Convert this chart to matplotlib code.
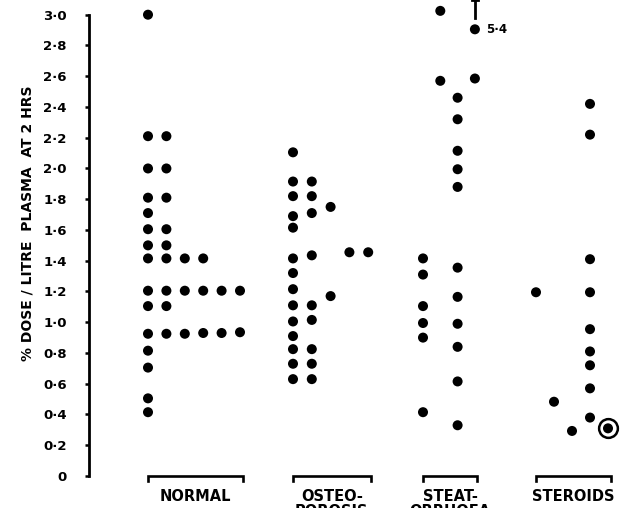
import matplotlib
matplotlib.use('Agg')
import matplotlib.pyplot as plt

# values, one list per dot column
groups = ['NORMAL', 'OSTEO-\nPOROSIS', 'STEAT-\nORRHOEA', 'STEROIDS']

normal = [
    [3.0, 2.21, 2.0, 1.81, 1.71, 1.605, 1.5, 1.415, 1.205, 1.105, 0.925, 0.815, 0.705, 0.505, 0.415],
    [2.21, 2.0, 1.81, 1.605, 1.5, 1.415, 1.205, 1.105, 0.925],
    [1.415, 1.205, 0.925],
    [1.415, 1.205, 0.93],
    [1.205, 0.93],
    [1.205, 0.935],
]
osteoporosis = [
    [2.105, 1.915, 1.82, 1.69, 1.615, 1.415, 1.32, 1.215, 1.11, 1.005, 0.91, 0.825, 0.73, 0.63],
    [1.915, 1.82, 1.71, 1.435, 1.11, 1.015, 0.825, 0.73, 0.63],
    [1.75, 1.17],
    [1.455],
    [1.455],
]
steatorrhoea = [
    [1.415, 1.31, 1.105, 0.995, 0.9, 0.415],
    [3.025, 2.57],
    [2.46, 2.32, 2.115, 1.995, 1.88, 1.355, 1.165, 0.99, 0.84, 0.615, 0.33],
    [2.905, 2.585],
]
steroids = [
    [1.195],
    [0.483],
    [0.293],
    [2.42, 2.22, 1.41, 1.195, 0.955, 0.81, 0.72, 0.57, 0.38],
    [0.31],
]
# one steatorrhoea value is off scale and plotted at the top with an arrow
offscale_value = 5.4
offscale_plotted = 2.905
circled_value = 0.31  # the ringed steroid point

yticks = [i / 5 for i in range(16)]
ylabel = '% DOSE / LITRE  PLASMA  AT 2 HRS'

# layout (pixel-like x units)
col_start = [148, 293, 423, 536]
col_pitch = [18.4, 18.8, 17.3, 18.0]
all_groups = [normal, osteoporosis, steatorrhoea, steroids]

plt.rcParams['font.family'] = 'DejaVu Sans'
plt.rcParams['font.weight'] = 'bold'

fig = plt.figure(figsize=(6.24, 5.08), dpi=100)
ax = fig.add_axes([89 / 624, 32 / 508, 535 / 624, 461.3 / 508])
ax.set_xlim(89, 624)
ax.set_ylim(0, 3.0)

for g, cols in enumerate(all_groups):
    xs_cols = []
    for c, vals in enumerate(cols):
        x = col_start[g] + c * col_pitch[g]
        xs_cols.append(x)
        ax.scatter([x] * len(vals), vals, s=52, color='black', edgecolors='none',
                   clip_on=False, zorder=3)
    # bracket under each group
    x0, x1 = xs_cols[0], xs_cols[-1] + 2.5
    ax.plot([x0, x0, x1, x1], [-0.035, 0, 0, -0.035], color='black', lw=1.9,
            clip_on=False, solid_joinstyle='miter')
    ax.text((x0 + x1) / 2, -0.085, groups[g], ha='center', va='top', fontsize=10.5,
            fontweight='bold', linespacing=1.0, clip_on=False)

# off-scale arrow and its value
xa = col_start[2] + 3 * col_pitch[2]
ya0, ya1 = offscale_plotted + 0.075, offscale_plotted + 0.19
ax.plot([xa, xa], [ya0, ya1], color='black', lw=2.0, clip_on=False)
ax.plot([xa - 3, xa + 3], [ya1, ya1], color='black', lw=2.0, clip_on=False)
ax.text(xa + 11, offscale_plotted, f'{offscale_value:.1f}'.replace('.', '·'),
        ha='left', va='center', fontsize=8.5, fontweight='bold')

# ring round the circled steroid point
xc = col_start[3] + 4 * col_pitch[3]
ax.plot([xc], [circled_value], marker='o', ms=13.5, mfc='none', mec='black', mew=1.8,
        clip_on=False, zorder=4)

ax.set_yticks(yticks)
ax.set_yticklabels(['0' if v == 0 else f'{v:.1f}'.replace('.', '·') for v in yticks],
                   fontsize=9.5, fontweight='bold')
ax.tick_params(axis='y', length=3, width=1.8, pad=13)
ax.set_xticks([])
for side in ['top', 'right', 'bottom']:
    ax.spines[side].set_visible(False)
ax.spines['left'].set_linewidth(2.0)

fig.text(28 / 624, 1 - 223 / 508, ylabel, rotation=90, ha='center', va='center',
         fontsize=10, fontweight='bold')

fig.savefig('out.png', dpi=100)
